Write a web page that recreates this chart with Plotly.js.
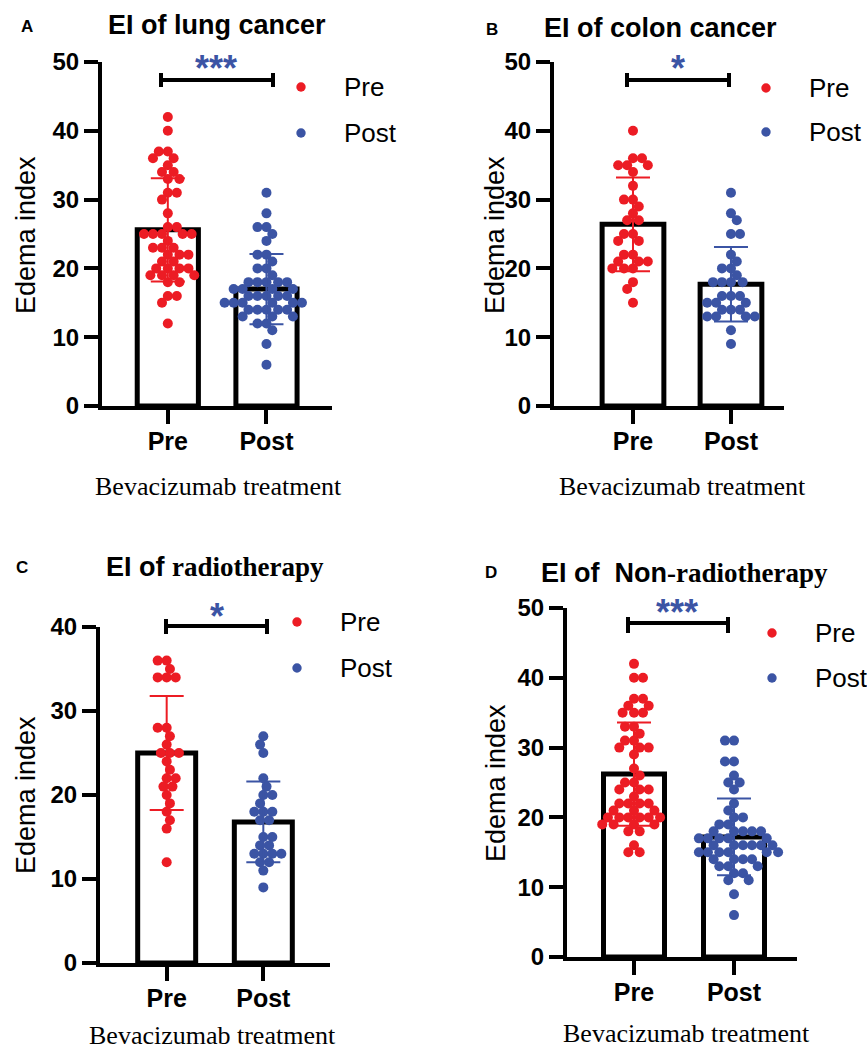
<!DOCTYPE html>
<html>
<head>
<meta charset="utf-8">
<script src="https://cdn.plot.ly/plotly-3.0.1.min.js"></script>
<style>html,body{margin:0;padding:0;background:#fff;}#chart{width:867px;height:1049px;}</style>
</head>
<body>
<div id="chart"></div>
<script>
// ---------------- DATA ----------------
const categories = ['Pre', 'Post'];

const lungPre = [42, 40, 37, 37, 36, 36, 35, 34, 34, 33, 33, 31, 31, 30, 28, 26, 26,
  25, 25, 25, 25, 25, 24, 23, 23, 23, 22, 22, 22, 21, 21, 20, 20, 20, 20,
  19, 19, 19, 19, 18, 18, 16, 16, 15, 12];
const lungPost = [31, 28, 26, 26, 25, 24, 22, 22, 21, 20, 20, 19, 18, 18, 18, 18, 18,
  17, 17, 17, 17, 16, 16, 16, 16, 16, 15, 15, 15, 15, 15, 15,
  14, 14, 14, 14, 14, 13, 13, 13, 12, 12, 11, 9, 6];
const lungMean = [25.6, 17.0];
const lungSD = [7.5, 5.1];

const colonPre = [40, 36, 36, 35, 35, 35, 34, 32, 30, 30, 29, 28, 27, 27, 25, 25,
  24, 24, 22, 22, 21, 21, 21, 20, 20, 20, 18, 17, 15];
const colonPost = [31, 28, 27, 25, 25, 22, 21, 20, 20, 19, 18, 18, 18, 18,
  16, 16, 16, 15, 15, 15, 14, 14, 14, 13, 13, 13, 13, 11, 9];
const colonMean = [26.4, 17.7];
const colonSD = [6.8, 5.4];

const radioPre = [36, 36, 35, 34, 34, 34, 28, 28, 27, 26, 25, 25, 25, 24, 23,
  22, 22, 21, 21, 20, 19, 18, 17, 16, 12];
const radioPost = [27, 26, 25, 22, 21, 20, 20, 19, 18, 18, 18, 17, 17, 15, 15,
  14, 14, 13, 13, 13, 13, 12, 12, 11, 9];
const radioMean = [25.0, 16.8];
const radioSD = [6.8, 4.8];

const nonRadioPre = [42, 40, 40, 37, 37, 36, 36, 35, 35, 35, 33, 33, 32, 31, 31,
  30, 30, 30, 29, 27, 26, 25, 25, 24, 24, 24, 23, 22, 22, 22, 22, 21, 21, 21,
  20, 20, 20, 20, 20, 20, 19, 19, 19, 19, 18, 18, 16, 15, 15];
const nonRadioPost = [31, 31, 28, 28, 26, 25, 25, 24, 22, 21, 20, 20, 19, 19,
  18, 18, 18, 18, 18, 17, 17, 17, 17, 17, 16, 16, 16, 16, 16, 16,
  15, 15, 15, 15, 15, 15, 14, 14, 14, 14, 13, 13, 13, 12, 12, 11, 11, 9, 6];
const nonRadioMean = [26.2, 17.2];
const nonRadioSD = [7.4, 5.5];

const yTicks50 = [0, 10, 20, 30, 40, 50];
const yTicks40 = [0, 10, 20, 30, 40];

const panelLetters = ['A', 'B', 'C', 'D'];
const panelTitles = [
  'EI of lung cancer',
  'EI of colon cancer',
  'EI of <span style="font-family:\'Liberation Serif\',\'Times New Roman\',serif">radiotherapy</span>',
  'EI of\u00a0 Non<span style="font-family:\'Liberation Serif\',\'Times New Roman\',serif">-radiotherapy</span>'
];
const significance = ['***', '*', '*', '***'];
const yTitle = 'Edema index';
const xTitle = 'Bevacizumab treatment';

// ---------------- LAYOUT GEOMETRY ----------------
const W = 867, H = 1049;
const RED = '#ec1c24', BLUE = '#3b54a4';

const panels = [
  { pre: lungPre, post: lungPost, mean: lungMean, sd: lungSD, ticks: yTicks50, ymax: 50,
    xl: 102, xr: 332, xrange: [-0.667, 1.664], yt: 62, yb: 406, bw: 0.62,
    letter: [27, 27], title: [217, 25], ytitle: [26, 235], xtitle: [218, 486],
    br: { y: 80, x0: 161, x1: 273, c0: 73, c1: 87 }, star: [216, 69],
    leg: { dx: 301, y0: 87, y1: 133, tx: 342 } },
  { pre: colonPre, post: colonPost, mean: colonMean, sd: colonSD, ticks: yTicks50, ymax: 50,
    xl: 554, xr: 784, xrange: [-0.806, 1.541], yt: 62, yb: 406, bw: 0.63,
    letter: [492, 30], title: [660, 28], ytitle: [495, 235], xtitle: [682, 487],
    br: { y: 80, x0: 627, x1: 729, c0: 73, c1: 87 }, star: [678, 69],
    leg: { dx: 766, y0: 88, y1: 132, tx: 807 } },
  { pre: radioPre, post: radioPost, mean: radioMean, sd: radioSD, ticks: yTicks40, ymax: 40,
    xl: 100, xr: 330, xrange: [-0.69, 1.69], yt: 627, yb: 963, bw: 0.60,
    letter: [22, 567], title: [215, 567], ytitle: [26, 795], xtitle: [212, 1035],
    br: { y: 626, x0: 166, x1: 267, c0: 619, c1: 634 }, star: [217, 616],
    leg: { dx: 297, y0: 622, y1: 668, tx: 338 } },
  { pre: nonRadioPre, post: nonRadioPost, mean: nonRadioMean, sd: nonRadioSD, ticks: yTicks50, ymax: 50,
    xl: 567, xr: 797, xrange: [-0.67, 1.63], yt: 608, yb: 957, bw: 0.61,
    letter: [491, 572], title: [684, 573], ytitle: [496, 783], xtitle: [686, 1033],
    br: { y: 623, x0: 628, x1: 728, c0: 617, c1: 633 }, star: [677, 612],
    leg: { dx: 772, y0: 633, y1: 678, tx: 813 } }
];

const px = x => x / W;
const py = y => 1 - y / H;

// deterministic beeswarm: offsets computed in pixel space so dots barely overlap
function swarm(vals, center, pxX, pxY, d) {
  const order = vals.map((v, i) => i).sort((a, b) => vals[b] - vals[a] || a - b);
  const placed = [];
  const xs = new Array(vals.length);
  order.forEach((i, k) => {
    const y = vals[i] * pxY;
    const near = placed.filter(p => Math.abs(p.y - y) < d);
    const cands = [0];
    near.forEach(p => {
      const h = Math.sqrt(d * d - (p.y - y) * (p.y - y));
      cands.push(p.x + h + 0.01, p.x - h - 0.01);
    });
    cands.sort((a, b) => (Math.abs(a) - Math.abs(b)) || (k % 2 ? a - b : b - a));
    let sel = 0;
    for (const c of cands) {
      if (near.every(p => (p.x - c) * (p.x - c) + (p.y - y) * (p.y - y) >= d * d - 0.05)) { sel = c; break; }
    }
    placed.push({ x: sel, y: y });
    xs[i] = center + sel / pxX;
  });
  return xs;
}

const data = [];
const layout = {
  width: W, height: H,
  margin: { l: 0, r: 0, t: 0, b: 0 },
  paper_bgcolor: '#ffffff', plot_bgcolor: 'rgba(0,0,0,0)',
  showlegend: false,
  font: { family: 'Liberation Sans, Arial, sans-serif', color: '#000' },
  shapes: [], annotations: []
};

const sansBold = { family: 'Liberation Sans, Arial, sans-serif', weight: 'bold', color: '#000' };

panels.forEach((g, i) => {
  const sfx = i === 0 ? '' : String(i + 1);
  const xname = 'x' + sfx, yname = 'y' + sfx;
  const pxX = (g.xr - g.xl) / (g.xrange[1] - g.xrange[0]);
  const pxY = (g.yb - g.yt) / g.ymax;

  layout['xaxis' + sfx] = {
    domain: [px(g.xl), px(g.xr)], range: g.xrange, anchor: yname,
    tickmode: 'array', tickvals: [0, 1], ticktext: categories,
    ticks: 'outside', ticklen: 14, tickwidth: 4, tickcolor: '#000',
    showline: true, linewidth: 4, linecolor: '#000',
    showgrid: false, zeroline: false, fixedrange: true,
    ticklabelstandoff: -4,
    tickfont: Object.assign({ size: 25 }, sansBold)
  };
  layout['yaxis' + sfx] = {
    domain: [py(g.yb), py(g.yt)], range: [0, g.ymax], anchor: xname,
    tickmode: 'array', tickvals: g.ticks,
    ticks: 'outside', ticklen: 14, tickwidth: 4, tickcolor: '#000',
    showline: true, linewidth: 4, linecolor: '#000',
    showgrid: false, zeroline: false, fixedrange: true,
    tickfont: Object.assign({ size: 24 }, sansBold)
  };

  // bars (means)
  data.push({
    type: 'bar', x: [0, 1], y: g.mean, width: g.bw, xaxis: xname, yaxis: yname,
    marker: { color: '#ffffff', line: { color: '#000', width: 5 } },
    hoverinfo: 'skip'
  });
  // individual points
  data.push({
    type: 'scatter', mode: 'markers', xaxis: xname, yaxis: yname,
    x: swarm(g.pre, 0, pxX, pxY, 9.0), y: g.pre,
    marker: { color: RED, size: 10, line: { width: 0 } }, hoverinfo: 'y'
  });
  data.push({
    type: 'scatter', mode: 'markers', xaxis: xname, yaxis: yname,
    x: swarm(g.post, 1, pxX, pxY, 9.0), y: g.post,
    marker: { color: BLUE, size: 10, line: { width: 0 } }, hoverinfo: 'y'
  });
  // SD error bars on top
  [[0, RED], [1, BLUE]].forEach(([k, col]) => {
    data.push({
      type: 'scatter', mode: 'markers', xaxis: xname, yaxis: yname,
      x: [k], y: [g.mean[k]],
      marker: { size: 1, opacity: 0 },
      error_y: { type: 'data', array: [g.sd[k]], visible: true, color: col, thickness: 2, width: 17 },
      hoverinfo: 'skip'
    });
  });

  // significance bracket
  const b = g.br;
  const ln = { color: '#000', width: 4 };
  layout.shapes.push(
    { type: 'line', xref: 'paper', yref: 'paper', x0: px(b.x0), x1: px(b.x1), y0: py(b.y), y1: py(b.y), line: ln },
    { type: 'line', xref: 'paper', yref: 'paper', x0: px(b.x0), x1: px(b.x0), y0: py(b.c0), y1: py(b.c1), line: ln },
    { type: 'line', xref: 'paper', yref: 'paper', x0: px(b.x1), x1: px(b.x1), y0: py(b.c0), y1: py(b.c1), line: ln }
  );
  layout.annotations.push({
    xref: 'paper', yref: 'paper', x: px(g.star[0]), y: py(g.star[1]),
    xanchor: 'center', yanchor: 'middle', showarrow: false, text: significance[i],
    font: { family: 'Liberation Sans, Arial, sans-serif', size: 36, weight: 'bold', color: BLUE }
  });

  // legend (dots + labels)
  const L = g.leg, r = 4.7;
  [[L.y0, RED, categories[0]], [L.y1, BLUE, categories[1]]].forEach(([yy, col, lab]) => {
    layout.shapes.push({
      type: 'circle', xref: 'paper', yref: 'paper',
      x0: px(L.dx - r), x1: px(L.dx + r), y0: py(yy + r), y1: py(yy - r),
      fillcolor: col, line: { width: 0 }
    });
    layout.annotations.push({
      xref: 'paper', yref: 'paper', x: px(L.tx), y: py(yy), xanchor: 'left', yanchor: 'middle',
      showarrow: false, text: lab,
      font: { family: 'Liberation Sans, Arial, sans-serif', size: 26, color: '#000' }
    });
  });

  // panel letter, title, axis titles
  layout.annotations.push(
    { xref: 'paper', yref: 'paper', x: px(g.letter[0]), y: py(g.letter[1]), xanchor: 'center', yanchor: 'middle',
      showarrow: false, text: panelLetters[i], font: Object.assign({ size: 17 }, sansBold) },
    { xref: 'paper', yref: 'paper', x: px(g.title[0]), y: py(g.title[1]), xanchor: 'center', yanchor: 'middle',
      showarrow: false, text: panelTitles[i], font: Object.assign({ size: 27 }, sansBold) },
    { xref: 'paper', yref: 'paper', x: px(g.ytitle[0]), y: py(g.ytitle[1]), xanchor: 'center', yanchor: 'middle',
      showarrow: false, textangle: -90, text: yTitle,
      font: { family: 'Liberation Sans, Arial, sans-serif', size: 27, color: '#000' } },
    { xref: 'paper', yref: 'paper', x: px(g.xtitle[0]), y: py(g.xtitle[1]), xanchor: 'center', yanchor: 'middle',
      showarrow: false, text: xTitle,
      font: { family: 'Liberation Serif, Times New Roman, serif', size: 26, color: '#000' } }
  );
});

Plotly.newPlot('chart', data, layout, { displayModeBar: false, responsive: false });
</script>
</body>
</html>
